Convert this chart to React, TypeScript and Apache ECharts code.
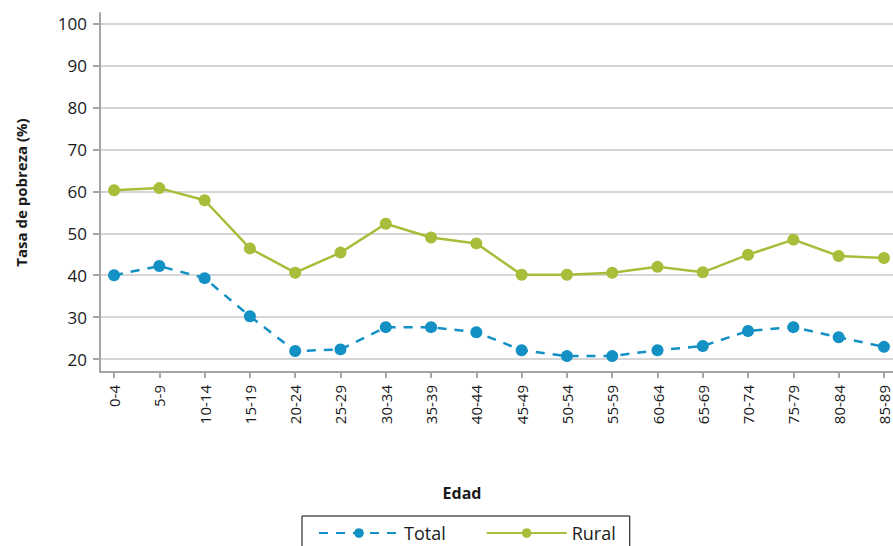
import React, { useEffect, useRef } from "react";
import * as echarts from "echarts";

const categories = ["0-4","5-9","10-14","15-19","20-24","25-29","30-34","35-39","40-44","45-49","50-54","55-59","60-64","65-69","70-74","75-79","80-84","85-89"];
const totalValues = [40.0, 42.2, 39.3, 30.2, 21.9, 22.3, 27.6, 27.6, 26.4, 22.1, 20.7, 20.7, 22.1, 23.1, 26.7, 27.6, 25.2, 22.9];
const ruralValues = [60.3, 60.8, 57.9, 46.4, 40.6, 45.4, 52.3, 49.0, 47.6, 40.1, 40.1, 40.6, 42.0, 40.7, 44.9, 48.5, 44.6, 44.1];
const yTicks = [20, 30, 40, 50, 60, 70, 80, 90, 100];
const xTicks = categories.map((_, i) => i);

const FONT = "'Open Sans', 'Noto Sans', sans-serif";
const BLUE = "#1390c4";
const GREEN = "#a6be3a";

export default function App() {
  const ref = useRef<HTMLDivElement>(null);
  useEffect(() => {
    const chart = echarts.init(ref.current!, null, { renderer: "svg" });
    chart.setOption({
      animation: false,
      textStyle: { fontFamily: FONT },
      grid: { left: 100, right: 0, top: 13, bottom: 174, containLabel: false },
      xAxis: {
        type: "value",
        min: -0.31,
        max: 17.2,
        axisLine: { show: true, onZero: false, lineStyle: { color: "#a6a6a6", width: 2 } },
        axisTick: { show: true, customValues: xTicks, length: 6, lineStyle: { color: "#a6a6a6", width: 2 } },
        axisLabel: {
          customValues: xTicks,
          rotate: 90,
          fontSize: 15,
          lineHeight: 14,
          color: "#1a1a1a",
          margin: 13,
          fontFamily: FONT,
          formatter: (v: number) => categories[Math.round(v)] ?? "",
        },
        splitLine: { show: false },
      },
      yAxis: {
        type: "value",
        min: 16.9,
        max: 102.6,
        name: "Tasa de pobreza (%)",
        nameLocation: "middle",
        nameGap: 72,
        nameTextStyle: { fontSize: 15, fontWeight: "bold", color: "#1a1a1a", fontFamily: FONT },
        axisLine: { show: true, onZero: false, lineStyle: { color: "#a6a6a6", width: 2 } },
        axisTick: { show: true, customValues: yTicks, length: 7, lineStyle: { color: "#a6a6a6", width: 2 } },
        axisLabel: { customValues: yTicks, fontSize: 17, color: "#1a1a1a", margin: 13, fontFamily: FONT },
        splitLine: { show: true, lineStyle: { color: "#d6d6d6", width: 2 } },
      },
      legend: {
        left: 302,
        top: 516,
        orient: "horizontal",
        borderColor: "#000",
        borderWidth: 1,
        borderRadius: 0,
        padding: [8, 14, 12, 16],
        itemWidth: 80,
        itemHeight: 12,
        itemGap: 40,
        textStyle: { fontSize: 18, color: "#1a1a1a", fontFamily: FONT },
        data: ["Total", "Rural"],
      },
      graphic: [
        {
          type: "text",
          x: 462,
          y: 493,
          style: { text: "Edad", fontSize: 16, fontWeight: "bold", fill: "#1a1a1a", fontFamily: FONT, align: "center", verticalAlign: "middle" },
        },
      ],
      series: [
        {
          name: "Total",
          type: "line",
          data: totalValues.map((v, i) => [i, v]),
          symbol: "circle",
          symbolSize: 12,
          itemStyle: { color: BLUE },
          lineStyle: { color: BLUE, width: 2.5, type: [9, 8] },
        },
        {
          name: "Rural",
          type: "line",
          data: ruralValues.map((v, i) => [i, v]),
          symbol: "circle",
          symbolSize: 12,
          itemStyle: { color: GREEN },
          lineStyle: { color: GREEN, width: 2.5 },
        },
      ],
    });
    return () => chart.dispose();
  }, []);
  return <div ref={ref} style={{ width: 893, height: 546, position: "absolute", left: 0, top: 0 }} />;
}
